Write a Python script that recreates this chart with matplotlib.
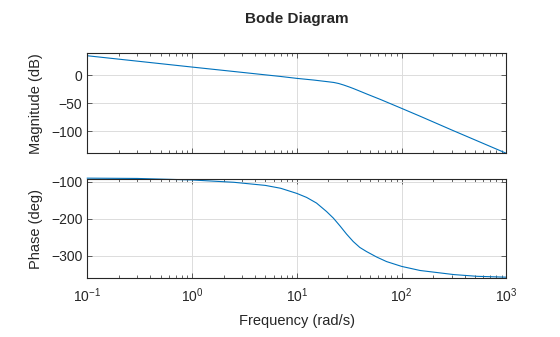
import matplotlib.pyplot as plt
from matplotlib.ticker import LogLocator, NullFormatter

plt.rcParams['font.family'] = ['Liberation Sans', 'DejaVu Sans']

# values
mag_freq = [0.1, 1, 7, 10, 14.5, 18, 20, 22.5, 25, 28, 32, 35, 40, 47, 63, 100, 150, 300, 1000]
mag_db = [34.5, 14.3, -2.5, -5.9, -8.9, -11.0, -12.0, -13.2, -15.0, -17.8, -21.6, -24.4,
          -28.8, -34.2, -43.7, -59.5, -73.5, -98.0, -139.8]

phase_freq = [0.1, 0.3, 1, 2.5, 5, 7, 10, 12.4, 15.4, 19.2, 22.3, 25.8, 29.8, 34.5,
              39.9, 46.2, 57.7, 71.8, 100, 150, 315, 527, 1000]
phase_deg = [-90.5, -91.3, -95.4, -101.6, -110.0, -117.7, -131.6, -142.4, -157.5,
             -180.3, -198.0, -219.0, -241.0, -261.0, -277.0, -288.0, -302.7, -315.0,
             -328.0, -339.0, -350.0, -354.7, -357.0]

mag_ticks = [0, -50, -100]
phase_ticks = [-100, -200, -300]

line_col = '#0072BD'
txt_col = '#262626'

fig = plt.figure(figsize=(5.6, 3.37), dpi=100)
ax_mag = fig.add_axes([0.1559, 0.545, 0.7484, 0.2967])
ax_ph = fig.add_axes([0.1559, 0.1742, 0.7484, 0.2955])

ax_mag.plot(mag_freq, mag_db, color=line_col, lw=0.8)
ax_ph.plot(phase_freq, phase_deg, color=line_col, lw=0.8, clip_on=False)

for ax in (ax_mag, ax_ph):
    ax.set_xscale('log')
    ax.set_xlim(0.1, 1000)
    ax.xaxis.set_major_locator(LogLocator(base=10, numticks=10))
    ax.xaxis.set_minor_locator(LogLocator(base=10, subs=range(2, 10), numticks=10))
    ax.xaxis.set_minor_formatter(NullFormatter())
    ax.grid(True, which='major', color='#dcdcdc', lw=0.7)
    ax.tick_params(which='both', direction='in', top=True, right=True,
                   colors=txt_col, labelsize=10, width=0.5)
    ax.tick_params(which='major', length=3.5)
    ax.tick_params(which='minor', length=2)
    for s in ax.spines.values():
        s.set_color(txt_col)
        s.set_linewidth(0.8)
    ax.set_axisbelow(True)

ax_mag.set_ylim(-139.8, 38.8)
ax_mag.set_yticks(mag_ticks)
ax_mag.tick_params(labelbottom=False)
ax_mag.set_ylabel('Magnitude (dB)', fontsize=10.5, color=txt_col, labelpad=6)

ax_ph.set_ylim(-360, -92)
ax_ph.set_yticks(phase_ticks)
ax_ph.set_ylabel('Phase (deg)', fontsize=10.5, color=txt_col, labelpad=6)
ax_ph.set_xlabel('Frequency (rad/s)', fontsize=10.5, color=txt_col, labelpad=6)
ax_ph.tick_params(axis='x', pad=6)

fig.text(0.53, 0.944, 'Bode Diagram', ha='center', va='center',
         fontsize=11, fontweight='bold', color=txt_col)

fig.savefig('out.png', dpi=100)
